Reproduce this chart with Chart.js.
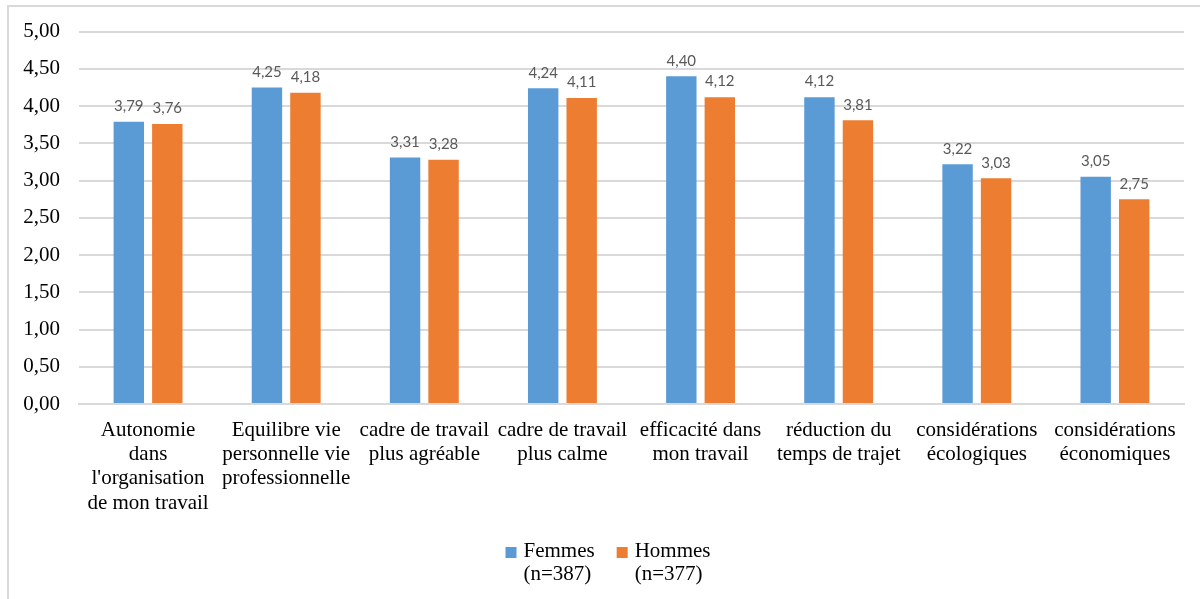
<!DOCTYPE html>
<html>
<head>
<meta charset="utf-8">
<script src="https://cdn.jsdelivr.net/npm/chart.js@4.4.1/dist/chart.umd.min.js"></script>
<style>
  html, body { margin: 0; padding: 0; background: #fff; }
  #wrap { position: relative; width: 1200px; height: 599px; overflow: hidden; }
  #frame { position: absolute; left: 7px; top: 5px; width: 1300px; height: 700px;
           border-top: 2px solid #d9d9d9; border-left: 2px solid #d9d9d9; }
  canvas { position: absolute; left: 0; top: 0; }
</style>
</head>
<body>
<div id="wrap">
  <div id="frame"></div>
  <canvas id="c" width="1200" height="599"></canvas>
</div>
<script>
const categories = [
  ["Autonomie", "dans", "l'organisation", "de mon travail"],
  ["Equilibre vie", "personnelle vie", "professionnelle"],
  ["cadre de travail", "plus agréable"],
  ["cadre de travail", "plus calme"],
  ["efficacité dans", "mon travail"],
  ["réduction du", "temps de trajet"],
  ["considérations", "écologiques"],
  ["considérations", "économiques"]
];
const femmesLabel = ["Femmes", "(n=387)"];
const hommesLabel = ["Hommes", "(n=377)"];
const femmes = [3.79, 4.25, 3.31, 4.24, 4.40, 4.12, 3.22, 3.05];
const hommes = [3.76, 4.18, 3.28, 4.11, 4.12, 3.81, 3.03, 2.75];
const yTicks = [0, 0.5, 1, 1.5, 2, 2.5, 3, 3.5, 4, 4.5, 5];

const fmt = v => v.toFixed(2).replace('.', ',');
const serif = "'Liberation Serif', 'DejaVu Serif', serif";

const valueLabels = {
  id: 'valueLabels',
  afterDatasetsDraw(chart) {
    const ctx = chart.ctx;
    ctx.save();
    ctx.font = "15px Lato, 'Open Sans', sans-serif";
    ctx.fillStyle = '#595959';
    ctx.textAlign = 'center';
    ctx.textBaseline = 'bottom';
    chart.data.datasets.forEach((ds, i) => {
      const meta = chart.getDatasetMeta(i);
      meta.data.forEach((bar, j) => {
        ctx.fillText(fmt(ds.data[j]), bar.x, bar.y - 8);
      });
    });
    ctx.restore();
  }
};

// Legend drawn below the x axis, two lines per entry
const bottomLegend = {
  id: 'bottomLegend',
  afterDraw(chart) {
    const ctx = chart.ctx;
    ctx.save();
    ctx.font = "21px " + serif;
    ctx.fillStyle = '#000';
    ctx.textBaseline = 'alphabetic';
    ctx.textAlign = 'left';
    const box = 11, gap = 7, itemGap = 22, lineH = 23;
    const items = chart.data.datasets.map(ds => {
      const w = Math.max(...ds.label.map(t => ctx.measureText(t).width));
      return { ds, w: box + gap + w };
    });
    const total = items.reduce((a, it) => a + it.w, 0) + itemGap * (items.length - 1);
    let x = 608 - total / 2;
    const base = chart.chartArea.bottom + 153;
    items.forEach(it => {
      ctx.fillStyle = it.ds.backgroundColor;
      ctx.fillRect(x, base - 10, box, box);
      ctx.fillStyle = '#000';
      it.ds.label.forEach((t, k) => ctx.fillText(t, x + box + gap, base + k * lineH));
      x += it.w + itemGap;
    });
    ctx.restore();
  }
};

new Chart(document.getElementById('c'), {
  type: 'bar',
  data: {
    labels: categories,
    datasets: [
      { label: femmesLabel, data: femmes, backgroundColor: '#5B9BD5' },
      { label: hommesLabel, data: hommes, backgroundColor: '#ED7D31' }
    ]
  },
  options: {
    responsive: false,
    animation: false,
    devicePixelRatio: 1,
    layout: { padding: { top: 30, right: 16, left: 0, bottom: 69 } },
    datasets: { bar: { categoryPercentage: 0.5575, barPercentage: 0.79 } },
    scales: {
      x: {
        grid: { display: false },
        border: { display: true, color: '#d9d9d9', width: 2 },
        ticks: {
          color: '#000',
          font: { family: serif, size: 21, lineHeight: 1.16 },
          padding: 6,
          maxRotation: 0,
          autoSkip: false
        },
        afterFit(scale) { scale.height = 126; }
      },
      y: {
        min: 0, max: 5,
        afterBuildTicks(scale) { scale.ticks = yTicks.map(v => ({ value: v })); },
        grid: { color: '#d9d9d9', lineWidth: 2, drawTicks: false },
        border: { display: false },
        ticks: {
          color: '#000',
          font: { family: serif, size: 21 },
          padding: 19,
          callback: v => fmt(v)
        },
        afterFit(scale) { scale.width = 79; }
      }
    },
    plugins: {
      legend: { display: false },
      tooltip: { enabled: false }
    }
  },
  plugins: [valueLabels, bottomLegend]
});
</script>
</body>
</html>
